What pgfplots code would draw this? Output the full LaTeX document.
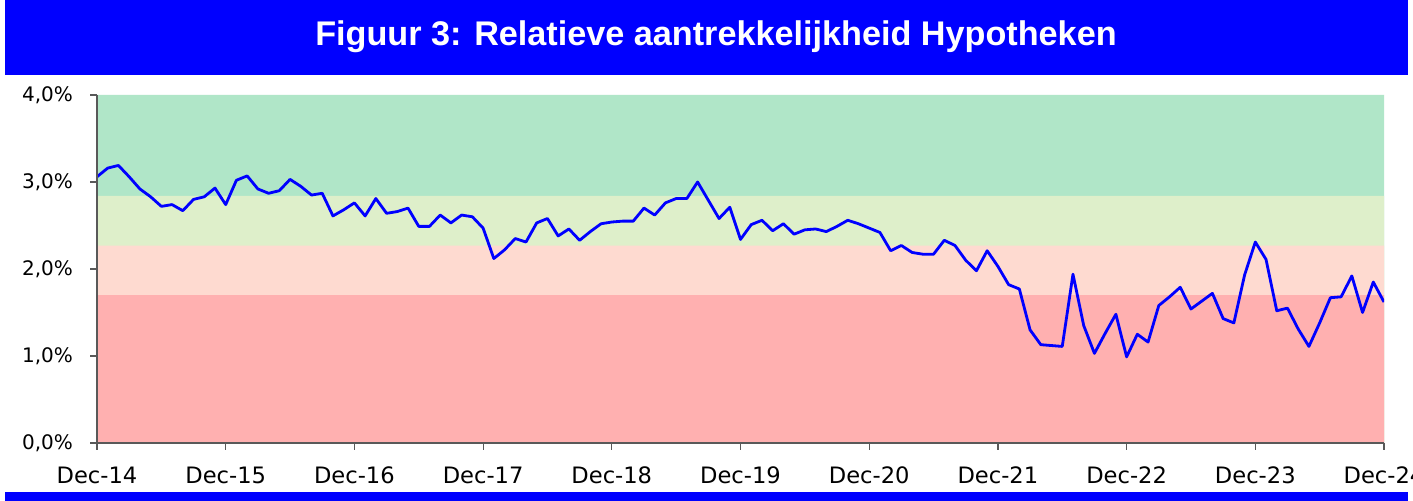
\documentclass[border=0pt]{standalone}
\usepackage{pgfplots}
\pgfplotsset{compat=1.18}
\usepackage{fontspec}
\setmainfont{DejaVu Sans}
\newfontfamily\titlefont{Liberation Sans}

\definecolor{titleblue}{RGB}{0,0,255}
\definecolor{bandgreen}{RGB}{176,230,200}
\definecolor{bandlight}{RGB}{222,239,202}
\definecolor{bandpink}{RGB}{254,218,208}
\definecolor{bandred}{RGB}{255,176,176}

\begin{document}
\begin{tikzpicture}
\clip (0pt,0pt) rectangle (706.5pt,250.5pt);
\fill[white] (0pt,0pt) rectangle (706.5pt,250.5pt);
% title bar and bottom bar
\fill[titleblue] (2.5pt,213pt) rectangle (704pt,250.5pt);
\node[text=white, font=\titlefont\bfseries\fontsize{17.1}{20}\selectfont] at (358pt,232pt) {Figuur 3: Relatieve aantrekkelijkheid Hypotheken};
\fill[titleblue] (2.5pt,0pt) rectangle (704pt,4.5pt);

\begin{axis}[
  at={(48.5pt,29pt)}, anchor=south west,
  scale only axis, width=643.5pt, height=174pt,
  xmin=0, xmax=120, ymin=0, ymax=4,
  axis x line=bottom, axis y line=left,
  axis line style={-, gray!70!black, line width=0.6pt},
  tick style={gray!70!black, line width=0.6pt},
  tick align=outside, major tick length=3.5pt,
  xtick={0,12,...,120},
  xticklabels={Dec-14,Dec-15,Dec-16,Dec-17,Dec-18,Dec-19,Dec-20,Dec-21,Dec-22,Dec-23,Dec-24},
  ytick={0,1,2,3,4},
  yticklabels={{0,0\%},{1,0\%},{2,0\%},{3,0\%},{4,0\%}},
  x tick label style={font=\fontsize{11.3}{13}\selectfont, yshift=-5pt},
  y tick label style={font=\fontsize{10}{12}\selectfont, xshift=-5pt},
  axis on top,
]
\addplot[fill=bandgreen, draw=none] coordinates {(0,0) (0,4) (120,4) (120,0)} \closedcycle;
\addplot[fill=bandlight, draw=none] coordinates {(0,0) (0,2.84) (120,2.84) (120,0)} \closedcycle;
\addplot[fill=bandpink, draw=none] coordinates {(0,0) (0,2.27) (120,2.27) (120,0)} \closedcycle;
\addplot[fill=bandred, draw=none] coordinates {(0,0) (0,1.70) (120,1.70) (120,0)} \closedcycle;

\addplot[titleblue, line width=1.4pt, line join=round, mark=none] coordinates {
(0,3.06)(1,3.16)(2,3.19)(3,3.06)(4,2.92)(5,2.83)(6,2.72)(7,2.74)(8,2.67)(9,2.80)
(10,2.83)(11,2.93)(12,2.74)(13,3.02)(14,3.07)(15,2.92)(16,2.87)(17,2.90)(18,3.03)(19,2.95)
(20,2.85)(21,2.87)(22,2.61)(23,2.68)(24,2.76)(25,2.61)(26,2.81)(27,2.64)(28,2.66)(29,2.70)
(30,2.49)(31,2.49)(32,2.62)(33,2.53)(34,2.62)(35,2.60)(36,2.47)(37,2.12)(38,2.22)(39,2.35)
(40,2.31)(41,2.53)(42,2.58)(43,2.38)(44,2.46)(45,2.33)(46,2.43)(47,2.52)(48,2.54)(49,2.55)
(50,2.55)(51,2.70)(52,2.62)(53,2.76)(54,2.81)(55,2.81)(56,3.00)(57,2.79)(58,2.58)(59,2.71)
(60,2.34)(61,2.51)(62,2.56)(63,2.44)(64,2.52)(65,2.40)(66,2.45)(67,2.46)(68,2.43)(69,2.49)
(70,2.56)(71,2.52)(72,2.47)(73,2.42)(74,2.21)(75,2.27)(76,2.19)(77,2.17)(78,2.17)(79,2.33)
(80,2.27)(81,2.10)(82,1.98)(83,2.21)(84,2.03)(85,1.82)(86,1.77)(87,1.30)(88,1.13)(89,1.12)
(90,1.11)(91,1.94)(92,1.35)(93,1.03)(94,1.26)(95,1.48)(96,0.99)(97,1.25)(98,1.16)(99,1.58)
(100,1.68)(101,1.79)(102,1.54)(103,1.63)(104,1.72)(105,1.43)(106,1.38)(107,1.93)(108,2.31)(109,2.11)
(110,1.52)(111,1.55)(112,1.31)(113,1.11)(114,1.38)(115,1.67)(116,1.68)(117,1.92)(118,1.50)(119,1.85)
(120,1.62)
};
\end{axis}
\end{tikzpicture}
\end{document}
